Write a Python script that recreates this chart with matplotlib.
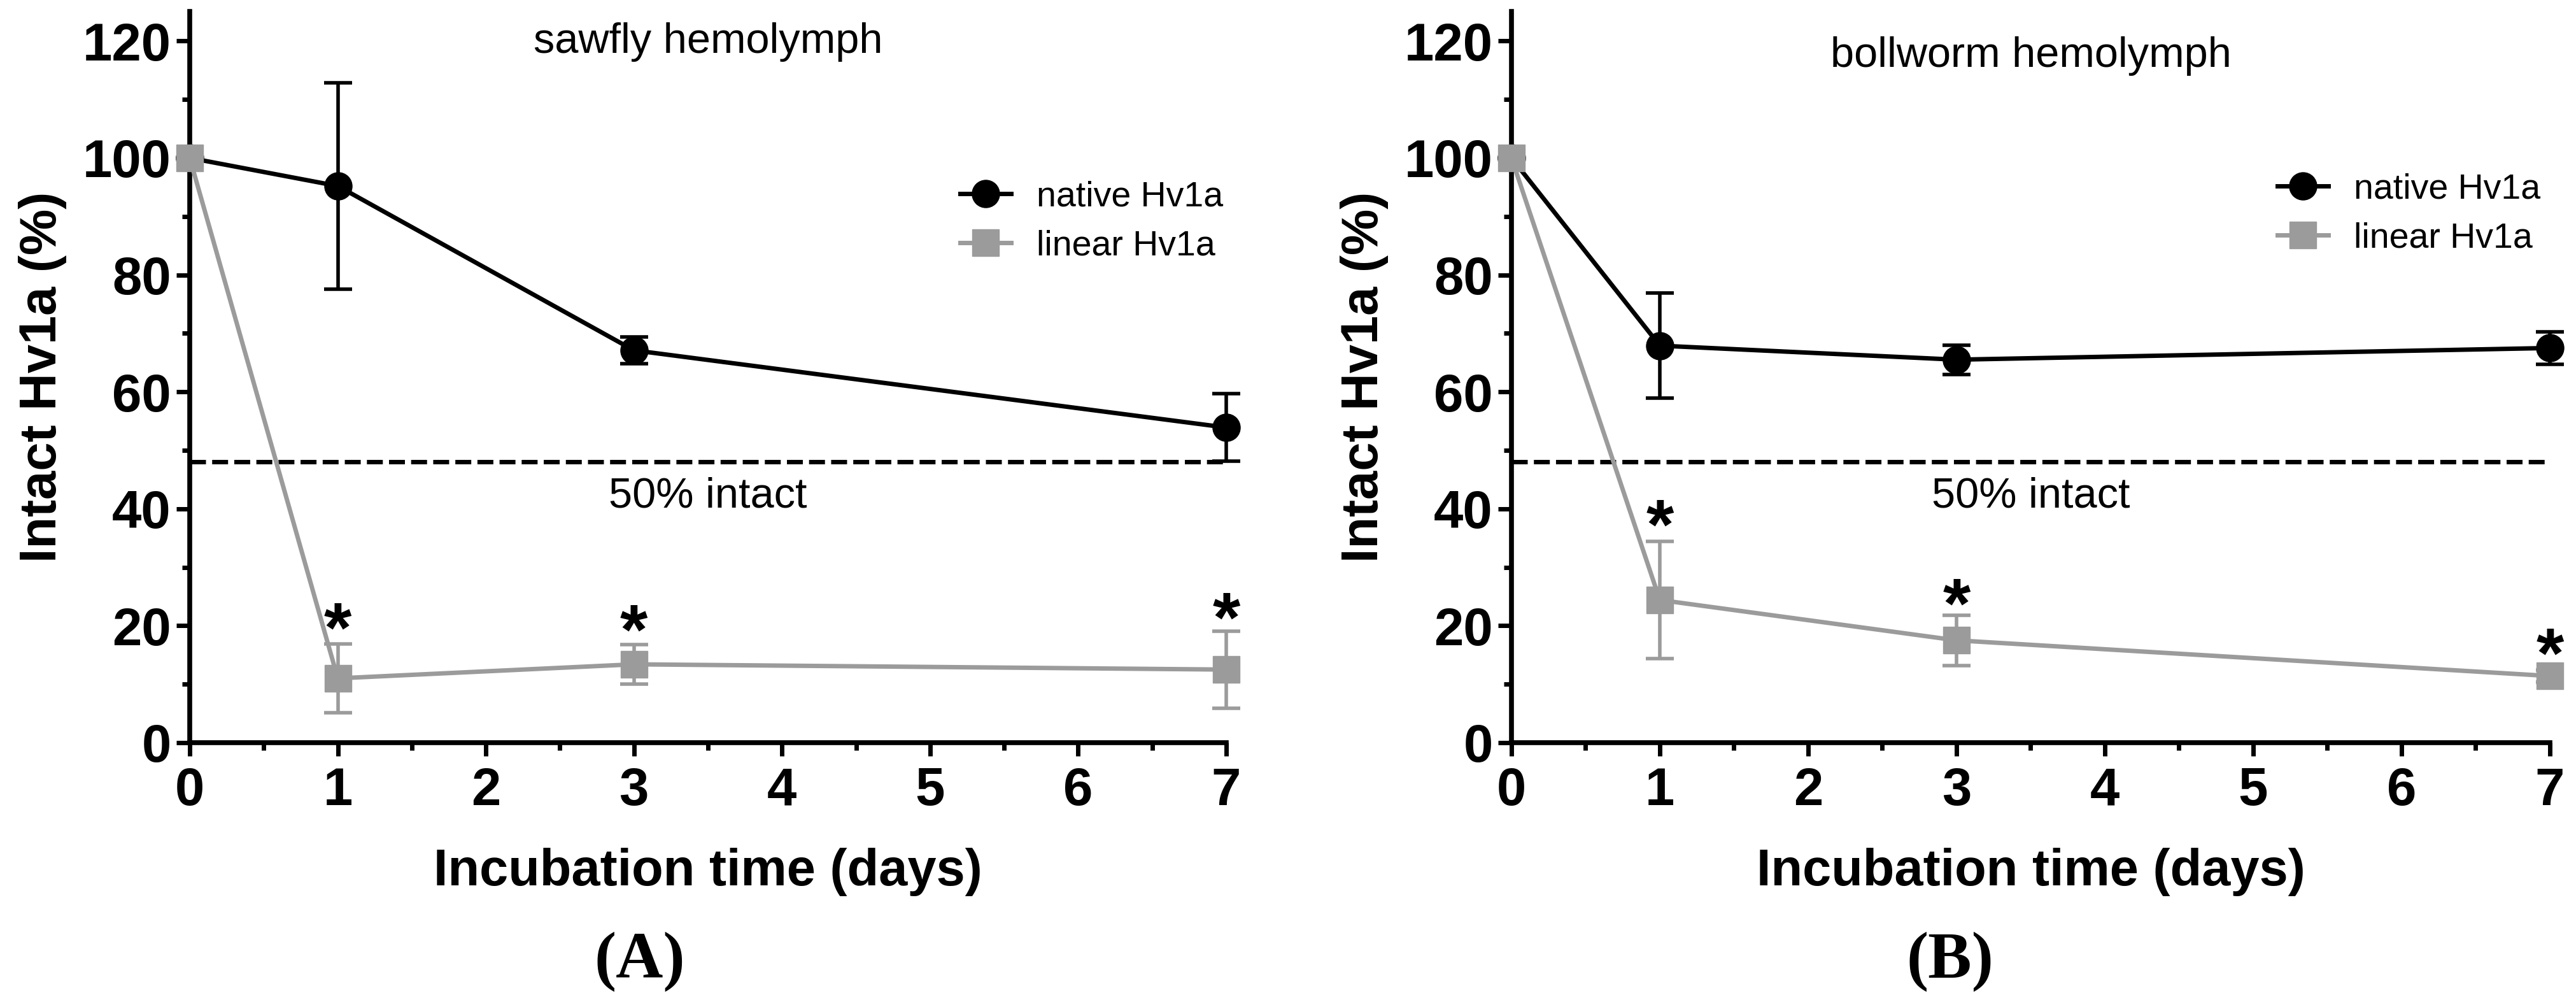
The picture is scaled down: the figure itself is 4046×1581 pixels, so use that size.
import matplotlib
matplotlib.use("Agg")
import matplotlib.pyplot as plt
from matplotlib.ticker import MultipleLocator

plt.rcParams['font.family'] = ['Liberation Sans', 'DejaVu Sans']

days = [0, 1, 3, 7]

# panel A: sawfly hemolymph
saw_native = [100, 95.2, 67.1, 53.9]
saw_native_err = [0, 17.6, 2.3, 5.8]
saw_linear = [100, 11.0, 13.4, 12.5]
saw_linear_err = [0, 5.9, 3.4, 6.6]
saw_star_days = [1, 3, 7]
saw_star_y = [22.2, 21.9, 23.9]

# panel B: bollworm hemolymph
boll_native = [100, 67.9, 65.5, 67.5]
boll_native_err = [0, 9.0, 2.5, 2.8]
boll_linear = [100, 24.4, 17.5, 11.4]
boll_linear_err = [0, 10.0, 4.3, 1.0]
boll_star_days = [1, 3, 7]
boll_star_y = [39.8, 26.3, 17.8]

half_line = 48
gray = '#9b9b9b'

fig = plt.figure(figsize=(40.46, 15.81), dpi=100)
axA = fig.add_axes([0.07365, 0.26250, 0.40237, 0.72580])
axB = fig.add_axes([0.58675, 0.26250, 0.40311, 0.72580])


def draw_panel(ax, native, native_err, linear, linear_err, star_x, star_y,
               title, title_y, leg_x, leg_y):
    ax.axhline(half_line, color='black', lw=5, dashes=(3.6, 1.4), zorder=1)
    ax.errorbar(days, native, yerr=native_err, fmt='none', ecolor='black',
                elinewidth=4, capsize=16, capthick=4, zorder=2, clip_on=False)
    ax.errorbar(days, linear, yerr=linear_err, fmt='none', ecolor=gray,
                elinewidth=4, capsize=16, capthick=4, zorder=3, clip_on=False)
    ax.plot(days, native, color='black', lw=5, marker='o', ms=31,
            label='native Hv1a', zorder=4, clip_on=False)
    ax.plot(days, linear, color=gray, lw=5, marker='s', ms=30,
            label='linear Hv1a', zorder=5, clip_on=False)
    for sx, sy in zip(star_x, star_y):
        ax.annotate('*', xy=(sx, sy), xytext=(0, -44), textcoords='offset points',
                    ha='center', va='baseline', fontsize=80, fontweight='bold',
                    annotation_clip=False)
    ax.text(3.5, title_y, title, ha='center', va='baseline', fontsize=48)
    ax.text(3.5, 40.3, '50% intact', ha='center', va='baseline', fontsize=48)

    ax.set_xlim(0, 7)
    ax.set_ylim(0, 125)
    ax.set_xticks(range(8))
    ax.xaxis.set_minor_locator(MultipleLocator(0.5))
    ax.set_yticks(range(0, 121, 20))
    ax.yaxis.set_minor_locator(MultipleLocator(10))
    for side in ['top', 'right']:
        ax.spines[side].set_visible(False)
    for side in ['left', 'bottom']:
        ax.spines[side].set_linewidth(5.5)
    ax.tick_params(which='major', length=15, width=5, labelsize=60, pad=6)
    ax.tick_params(which='minor', length=8.5, width=5)
    ax.tick_params(axis='x', which='major', pad=12)
    for lab in ax.get_xticklabels() + ax.get_yticklabels():
        lab.set_fontweight('bold')

    ax.set_xlabel('Incubation time (days)', fontsize=58.5, fontweight='bold')
    ax.set_ylabel('Intact Hv1a (%)', fontsize=58.5, fontweight='bold')
    ax.xaxis.label.set_va('baseline')
    ax.yaxis.label.set_va('baseline')
    ax.xaxis.set_label_coords(0.5, -0.1952)
    ax.yaxis.set_label_coords(-0.129, 0.5)

    ax.legend(loc='center left', bbox_to_anchor=(leg_x, leg_y), frameon=False,
              fontsize=40, handlelength=1.44, handletextpad=0.72,
              labelspacing=0.45, borderpad=0, borderaxespad=0)


draw_panel(axA, saw_native, saw_native_err, saw_linear, saw_linear_err,
           saw_star_days, saw_star_y, 'sawfly hemolymph', 118.0, 0.743, 0.713)
draw_panel(axB, boll_native, boll_native_err, boll_linear, boll_linear_err,
           boll_star_days, boll_star_y, 'bollworm hemolymph', 115.6, 0.7376, 0.7236)

fig.text(0.2484, 0.0291, '(A)', ha='center', va='baseline', fontsize=74,
         fontweight='bold', family='Liberation Serif')
fig.text(0.757, 0.0291, '(B)', ha='center', va='baseline', fontsize=74,
         fontweight='bold', family='Liberation Serif')

fig.savefig('out.png', dpi=100)
